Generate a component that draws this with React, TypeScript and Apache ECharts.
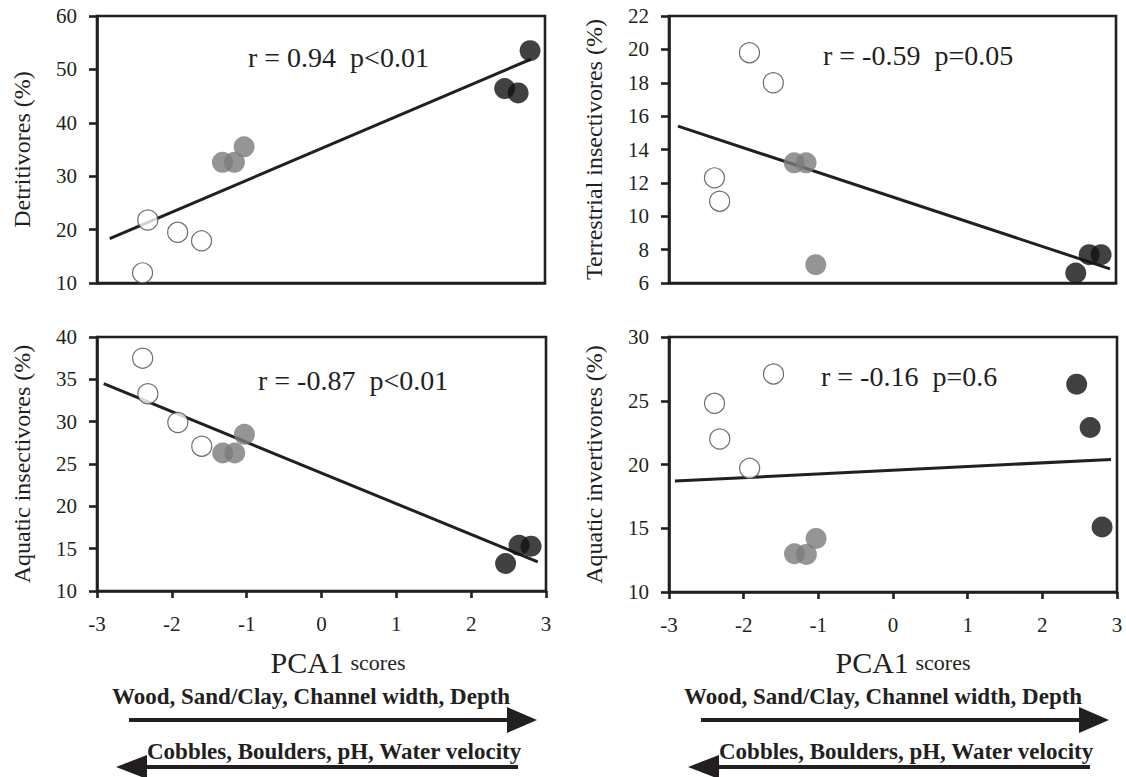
import React, { useEffect, useRef } from "react";
import * as echarts from "echarts";

// Shared PCA1 scores of the three site groups
const WHITE_X = [-2.39, -2.32, -1.92, -1.6];
const GRAY_X = [-1.32, -1.16, -1.03];
const BLACK_X = [2.46, 2.64, 2.8];

// Detritivores (%)
const DETRI_WHITE = [11.9, 21.8, 19.5, 17.9];
const DETRI_GRAY = [32.6, 32.6, 35.5];
const DETRI_BLACK = [46.4, 45.6, 53.5];
const DETRI_FIT_X = [-2.83, 2.81];
const DETRI_FIT_Y = [18.3, 51.9];

// Terrestrial insectivores (%)
const TERR_WHITE = [12.3, 10.9, 19.8, 18.0];
const TERR_GRAY = [13.2, 13.2, 7.1];
const TERR_BLACK = [6.6, 7.7, 7.7];
const TERR_FIT_X = [-2.88, 2.92];
const TERR_FIT_Y = [15.4, 6.85];

// Aquatic insectivores (%)
const AQINS_WHITE = [37.5, 33.3, 29.9, 27.1];
const AQINS_GRAY = [26.3, 26.3, 28.5];
const AQINS_BLACK = [13.25, 15.4, 15.3];
const AQINS_FIT_X = [-2.91, 2.89];
const AQINS_FIT_Y = [34.5, 13.45];

// Aquatic invertivores (%)
const AQINV_WHITE = [24.8, 22.0, 19.7, 27.1];
const AQINV_GRAY = [13.0, 12.95, 14.2];
const AQINV_BLACK = [26.3, 22.9, 15.1];
const AQINV_FIT_X = [-2.92, 2.92];
const AQINV_FIT_Y = [18.7, 20.4];

const Y_NAMES = [
  "Detritivores (%)",
  "Terrestrial insectivores (%)",
  "Aquatic insectivores (%)",
  "Aquatic invertivores (%)",
];
const Y_MIN = [10, 6, 10, 10];
const Y_MAX = [60, 22, 40, 30];
const Y_STEP = [10, 2, 5, 5];
const STATS = [
  "r = 0.94  p<0.01",
  "r = -0.59  p=0.05",
  "r = -0.87  p<0.01",
  "r = -0.16  p=0.6",
];
const X_MIN = -3;
const X_MAX = 3;
const X_STEP = 1;
const X_NAME_MAIN = "PCA1";
const X_NAME_SUB = "scores";
const GRADIENT_UP = "Wood, Sand/Clay, Channel width, Depth";
const GRADIENT_DOWN = "Cobbles, Boulders, pH, Water velocity";

const PANELS = [
  { white: DETRI_WHITE, gray: DETRI_GRAY, black: DETRI_BLACK, fx: DETRI_FIT_X, fy: DETRI_FIT_Y },
  { white: TERR_WHITE, gray: TERR_GRAY, black: TERR_BLACK, fx: TERR_FIT_X, fy: TERR_FIT_Y },
  { white: AQINS_WHITE, gray: AQINS_GRAY, black: AQINS_BLACK, fx: AQINS_FIT_X, fy: AQINS_FIT_Y },
  { white: AQINV_WHITE, gray: AQINV_GRAY, black: AQINV_BLACK, fx: AQINV_FIT_X, fy: AQINV_FIT_Y },
];

const INK = "#231f20";
const FONT = "Liberation Serif";

const GRIDS = [
  { left: 97, top: 16, width: 448, height: 267 },
  { left: 669, top: 16, width: 447, height: 267 },
  { left: 97, top: 337, width: 449, height: 254 },
  { left: 669, top: 337, width: 448, height: 255 },
];
const STAT_POS = [
  [248, 57],
  [823, 55],
  [258, 380],
  [821, 376],
];

const zip = (xs: number[], ys: number[]) => xs.map((x, i) => [x, ys[i]]);

export default function App() {
  const ref = useRef<HTMLDivElement>(null);
  useEffect(() => {
    if (!ref.current) return;
    const chart = echarts.init(ref.current, null, { renderer: "svg" });

    const grid = GRIDS.map((g) => ({
      ...g,
      show: true,
      borderColor: INK,
      borderWidth: 2.6,
      backgroundColor: "transparent",
    }));

    const xAxis = GRIDS.map((_, i) => ({
      type: "value",
      gridIndex: i,
      min: X_MIN,
      max: X_MAX,
      interval: X_STEP,
      splitLine: { show: false },
      axisLine: { show: true, onZero: false, lineStyle: { color: INK, width: 2.6 } },
      axisTick: { show: i >= 2, length: 7, lineStyle: { color: INK, width: 2.6 } },
      axisLabel: {
        show: i >= 2,
        margin: 22,
        color: INK,
        fontFamily: FONT,
        fontSize: 21,
      },
    }));

    const yAxis = GRIDS.map((_, i) => ({
      type: "value",
      gridIndex: i,
      min: Y_MIN[i],
      max: Y_MAX[i],
      interval: Y_STEP[i],
      name: Y_NAMES[i],
      nameLocation: "middle",
      nameGap: 63,
      nameTextStyle: { color: INK, fontFamily: FONT, fontSize: 24 },
      splitLine: { show: false },
      axisLine: { show: true, onZero: false, lineStyle: { color: INK, width: 2.6 } },
      axisTick: { show: true, length: 8, lineStyle: { color: INK, width: 2.6 } },
      axisLabel: { margin: 20, color: INK, fontFamily: FONT, fontSize: 21 },
    }));

    const series: any[] = [];
    PANELS.forEach((p, i) => {
      series.push({
        type: "line",
        xAxisIndex: i,
        yAxisIndex: i,
        data: zip(p.fx, p.fy),
        symbol: "none",
        lineStyle: { color: INK, width: 3 },
        z: 2,
      });
      series.push({
        type: "scatter",
        xAxisIndex: i,
        yAxisIndex: i,
        data: zip(WHITE_X, p.white),
        symbolSize: 20,
        itemStyle: { color: "#ffffff", borderColor: "#4a4a4a", borderWidth: 1.2 },
        z: 3,
      });
      series.push({
        type: "scatter",
        xAxisIndex: i,
        yAxisIndex: i,
        data: zip(GRAY_X, p.gray),
        symbolSize: 21,
        itemStyle: { color: "#7a7a7a" },
        z: 3,
      });
      series.push({
        type: "scatter",
        xAxisIndex: i,
        yAxisIndex: i,
        data: zip(BLACK_X, p.black),
        symbolSize: 21,
        itemStyle: { color: "#111111" },
        z: 3,
      });
    });

    const graphic: any[] = [];
    STATS.forEach((s, i) => {
      graphic.push({
        type: "text",
        x: STAT_POS[i][0],
        y: STAT_POS[i][1],
        style: {
          text: s,
          fill: INK,
          fontFamily: FONT,
          fontSize: 28,
          textAlign: "left",
          textVerticalAlign: "middle",
        },
      });
    });

    [338, 903].forEach((cx) => {
      graphic.push({
        type: "text",
        x: cx,
        y: 662,
        style: {
          text: `{a|${X_NAME_MAIN}}  {b|${X_NAME_SUB}}`,
          rich: {
            a: { fontFamily: FONT, fontSize: 30, fill: INK, color: INK },
            b: { fontFamily: FONT, fontSize: 22, fill: INK, color: INK },
          },
          textAlign: "center",
          textVerticalAlign: "middle",
        },
      });
    });

    [97, 669].forEach((px) => {
      // upper gradient text + right arrow
      graphic.push({
        type: "text",
        x: px + 15,
        y: 696,
        style: {
          text: GRADIENT_UP,
          fill: INK,
          fontFamily: FONT,
          fontWeight: "bold",
          fontSize: 23,
          textAlign: "left",
          textVerticalAlign: "middle",
        },
      });
      graphic.push({
        type: "line",
        shape: { x1: px + 32, y1: 720, x2: px + 415, y2: 720 },
        style: { stroke: INK, lineWidth: 3.8 },
      });
      graphic.push({
        type: "polygon",
        shape: {
          points: [
            [px + 410, 707],
            [px + 440, 720],
            [px + 410, 733],
          ],
        },
        style: { fill: INK },
      });
      // lower gradient text + left arrow
      graphic.push({
        type: "text",
        x: px + 50,
        y: 751,
        style: {
          text: GRADIENT_DOWN,
          fill: INK,
          fontFamily: FONT,
          fontWeight: "bold",
          fontSize: 23,
          textAlign: "left",
          textVerticalAlign: "middle",
        },
      });
      graphic.push({
        type: "line",
        shape: { x1: px + 45, y1: 767, x2: px + 421, y2: 767 },
        style: { stroke: INK, lineWidth: 3.8 },
      });
      graphic.push({
        type: "polygon",
        shape: {
          points: [
            [px + 50, 755],
            [px + 19, 767],
            [px + 50, 779],
          ],
        },
        style: { fill: INK },
      });
    });

    chart.setOption({
      animation: false,
      backgroundColor: "#ffffff",
      textStyle: { fontFamily: FONT },
      grid,
      xAxis,
      yAxis,
      series,
      graphic,
    });
    return () => chart.dispose();
  }, []);

  return (
    <div
      ref={ref}
      style={{ position: "fixed", left: 0, top: 0, width: 1126, height: 777 }}
    />
  );
}
